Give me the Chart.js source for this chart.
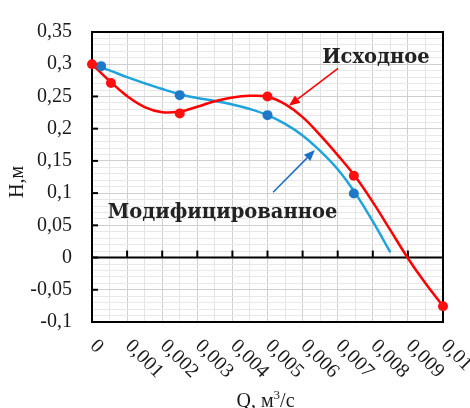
<!DOCTYPE html>
<html><head><meta charset="utf-8">
<script src="https://cdn.jsdelivr.net/npm/chart.js@4/dist/chart.umd.min.js"></script>
<style>html,body{margin:0;padding:0;background:#fff;}#wrap{width:470px;height:408px;}</style>
</head><body><div id="wrap"><canvas id="c" width="470" height="408"></canvas></div>
<script>
// ---- data ----
const xTickValues = [0,0.001,0.002,0.003,0.004,0.005,0.006,0.007,0.008,0.009,0.01];
const xTickLabels = ['0','0,001','0,002','0,003','0,004','0,005','0,006','0,007','0,008','0,009','0,01'];
const yTickValues = [-0.1,-0.05,0,0.05,0.1,0.15,0.2,0.25,0.3,0.35];
const yTickLabels = ['-0,1','-0,05','0','0,05','0,1','0,15','0,2','0,25','0,3','0,35'];

const origPointsQ = [0, 0.00054, 0.0025, 0.005, 0.00746, 0.01];
const origPointsH = [0.300, 0.271, 0.2235, 0.250, 0.127, -0.0755];
const modPointsQ  = [0.00026, 0.0025, 0.005, 0.00746];
const modPointsH  = [0.297, 0.252, 0.221, 0.0995];

const origCurveQ = [0,0.0005,0.001,0.0015,0.002,0.0025,0.003,0.0035,0.004,0.0045,0.005,0.0055,0.006,0.0065,0.007,0.0075,0.008,0.0085,0.009,0.0095,0.01];
const origCurveH = [0.300,0.274,0.2505,0.2335,0.2255,0.2265,0.234,0.2425,0.2485,0.251,0.2495,0.238,0.218,0.190,0.159,0.1257,0.0860,0.0425,-0.0010,-0.0400,-0.0755];
const modCurveQ  = [0,0.0005,0.001,0.0015,0.002,0.0025,0.003,0.0035,0.004,0.0045,0.005,0.0055,0.006,0.0065,0.007,0.0075,0.008,0.0085];
const modCurveH  = [0.300,0.2905,0.280,0.2705,0.2615,0.2535,0.2475,0.2430,0.2375,0.2305,0.221,0.2075,0.1895,0.1655,0.1370,0.1000,0.0560,0.0080];

const seriesNames = ['Исходное','Модифицированное'];

// ---- annotation layout (data coordinates) ----
const notes = {
  orig: {text: seriesNames[0], x: 0.00809, y: 0.310, from: [0.00701, 0.2936], to: [0.00561, 0.2355], color: '#ff0000'},
  mod:  {text: seriesNames[1], x: 0.00372, y: 0.069, from: [0.00516, 0.1013], to: [0.00635, 0.1669], color: '#1f6fc8'}
};

const zip = (xs, ys) => xs.map((x, i) => ({x, y: ys[i]}));

function arrow(ctx, x1, y1, x2, y2, color) {
  ctx.save();
  ctx.strokeStyle = color; ctx.fillStyle = color; ctx.lineWidth = 1.6;
  const a = Math.atan2(y2 - y1, x2 - x1), L = 11, W = 4.5;
  const bx = x2 - L * Math.cos(a), by = y2 - L * Math.sin(a);
  ctx.beginPath(); ctx.moveTo(x1, y1); ctx.lineTo(bx, by); ctx.stroke();
  ctx.beginPath();
  ctx.moveTo(x2, y2);
  ctx.lineTo(bx + W * Math.sin(a), by - W * Math.cos(a));
  ctx.lineTo(bx - W * Math.sin(a), by + W * Math.cos(a));
  ctx.closePath(); ctx.fill();
  ctx.restore();
}

const framePlugin = {
  id: 'frame',
  beforeDatasetsDraw(chart) {
    const {ctx, chartArea: a, scales: {x, y}} = chart;
    ctx.save();
    const y0 = y.getPixelForValue(0);
    ctx.strokeStyle = '#000'; ctx.lineWidth = 2;
    ctx.beginPath(); ctx.moveTo(a.left, y0); ctx.lineTo(a.right, y0); ctx.stroke();
    ctx.strokeRect(a.left, a.top, a.right - a.left, a.bottom - a.top);
    yTickValues.forEach(v => {
      const py = y.getPixelForValue(v);
      ctx.beginPath(); ctx.moveTo(a.left, py); ctx.lineTo(a.left + 6, py); ctx.stroke();
    });
    xTickValues.forEach(v => {
      const px = x.getPixelForValue(v);
      ctx.beginPath(); ctx.moveTo(px, y0); ctx.lineTo(px, y0 - 7); ctx.stroke();
    });
    ctx.restore();
  },
  afterDatasetsDraw(chart) {
    const {ctx, chartArea: a, scales: {x, y}} = chart;
    ctx.save();
    ctx.fillStyle = '#1a1a1a';
    ctx.font = '20px "Liberation Serif"';
    ctx.textAlign = 'left'; ctx.textBaseline = 'middle';
    xTickValues.forEach((v, i) => {
      const px = x.getPixelForValue(v);
      ctx.save(); ctx.translate(px + 1, a.bottom + 21); ctx.rotate(Math.PI / 4);
      ctx.fillText(xTickLabels[i], 0, 0); ctx.restore();
    });
    ctx.save(); ctx.translate(18, 182); ctx.rotate(-Math.PI / 2);
    ctx.textAlign = 'center'; ctx.fillText('Н,м', 0, 0); ctx.restore();
    ctx.textBaseline = 'alphabetic'; ctx.textAlign = 'left';
    const p1 = 'Q, м', p2 = '3', p3 = '/с';
    ctx.font = '20px "Liberation Serif"'; const w1 = ctx.measureText(p1).width, w3 = ctx.measureText(p3).width;
    ctx.font = '13px "Liberation Serif"'; const w2 = ctx.measureText(p2).width;
    const cx = (a.left + a.right) / 2 - 2, bl = 407;
    let sx = cx - (w1 + w2 + w3) / 2;
    ctx.font = '20px "Liberation Serif"'; ctx.fillText(p1, sx, bl); sx += w1;
    ctx.font = '13px "Liberation Serif"'; ctx.fillText(p2, sx, bl - 8); sx += w2;
    ctx.font = '20px "Liberation Serif"'; ctx.fillText(p3, sx, bl);
    ctx.font = 'bold 19.5px "DejaVu Serif"';
    ctx.textAlign = 'center'; ctx.textBaseline = 'middle'; ctx.fillStyle = '#222';
    Object.values(notes).forEach(n => {
      ctx.fillText(n.text, x.getPixelForValue(n.x), y.getPixelForValue(n.y));
      arrow(ctx, x.getPixelForValue(n.from[0]), y.getPixelForValue(n.from[1]),
                 x.getPixelForValue(n.to[0]), y.getPixelForValue(n.to[1]), n.color);
    });
    ctx.restore();
  }
};

const isMult = (v, step, k) => Math.round(v / step) % k === 0;

new Chart(document.getElementById('c'), {
  type: 'line',
  data: {
    datasets: [
      {type: 'scatter', label: seriesNames[0] + ' точки', data: zip(origPointsQ, origPointsH), showLine: false,
       pointRadius: 5, pointBackgroundColor: '#ff1010', pointBorderWidth: 0, clip: false},
      {type: 'scatter', label: seriesNames[1] + ' точки', data: zip(modPointsQ, modPointsH), showLine: false,
       pointRadius: 5, pointBackgroundColor: '#1f78c8', pointBorderWidth: 0, clip: false},
      {label: seriesNames[0], data: zip(origCurveQ, origCurveH), borderColor: '#ff0000', borderWidth: 2.5,
       pointRadius: 0, tension: 0.4, fill: false, clip: false},
      {label: seriesNames[1], data: zip(modCurveQ, modCurveH), borderColor: '#1fa3dd', borderWidth: 2.5,
       pointRadius: 0, tension: 0.4, fill: false, clip: false}
    ]
  },
  options: {
    responsive: false, animation: false, devicePixelRatio: 1,
    layout: {padding: {top: 20, right: 27, left: 0, bottom: 0}},
    plugins: {legend: {display: false}, tooltip: {enabled: false}},
    scales: {
      x: {type: 'linear', min: 0, max: 0.01,
          ticks: {display: false, stepSize: 0.0005, autoSkip: false},
          grid: {drawTicks: false, lineWidth: 1,
                 color: c => isMult(c.tick.value, 0.0005, 2) ? '#cfcfcf' : '#e4e4e4'},
          border: {display: false},
          afterFit: s => { s.height = 86; }},
      y: {type: 'linear', min: -0.1, max: 0.35,
          ticks: {stepSize: 0.01, autoSkip: false, padding: 20, color: '#1a1a1a',
                  font: {family: '"Liberation Serif"', size: 20},
                  callback: v => { if (!isMult(v, 0.01, 5)) return ''; const i = Math.round((v + 0.1) / 0.05); return yTickLabels[i]; }},
          grid: {drawTicks: false, lineWidth: 1,
                 color: c => isMult(c.tick.value, 0.01, 5) ? '#cfcfcf' : '#e8e8e8'},
          border: {display: false},
          afterFit: s => { s.width = 92; }}
    }
  },
  plugins: [framePlugin]
});
</script></body></html>
